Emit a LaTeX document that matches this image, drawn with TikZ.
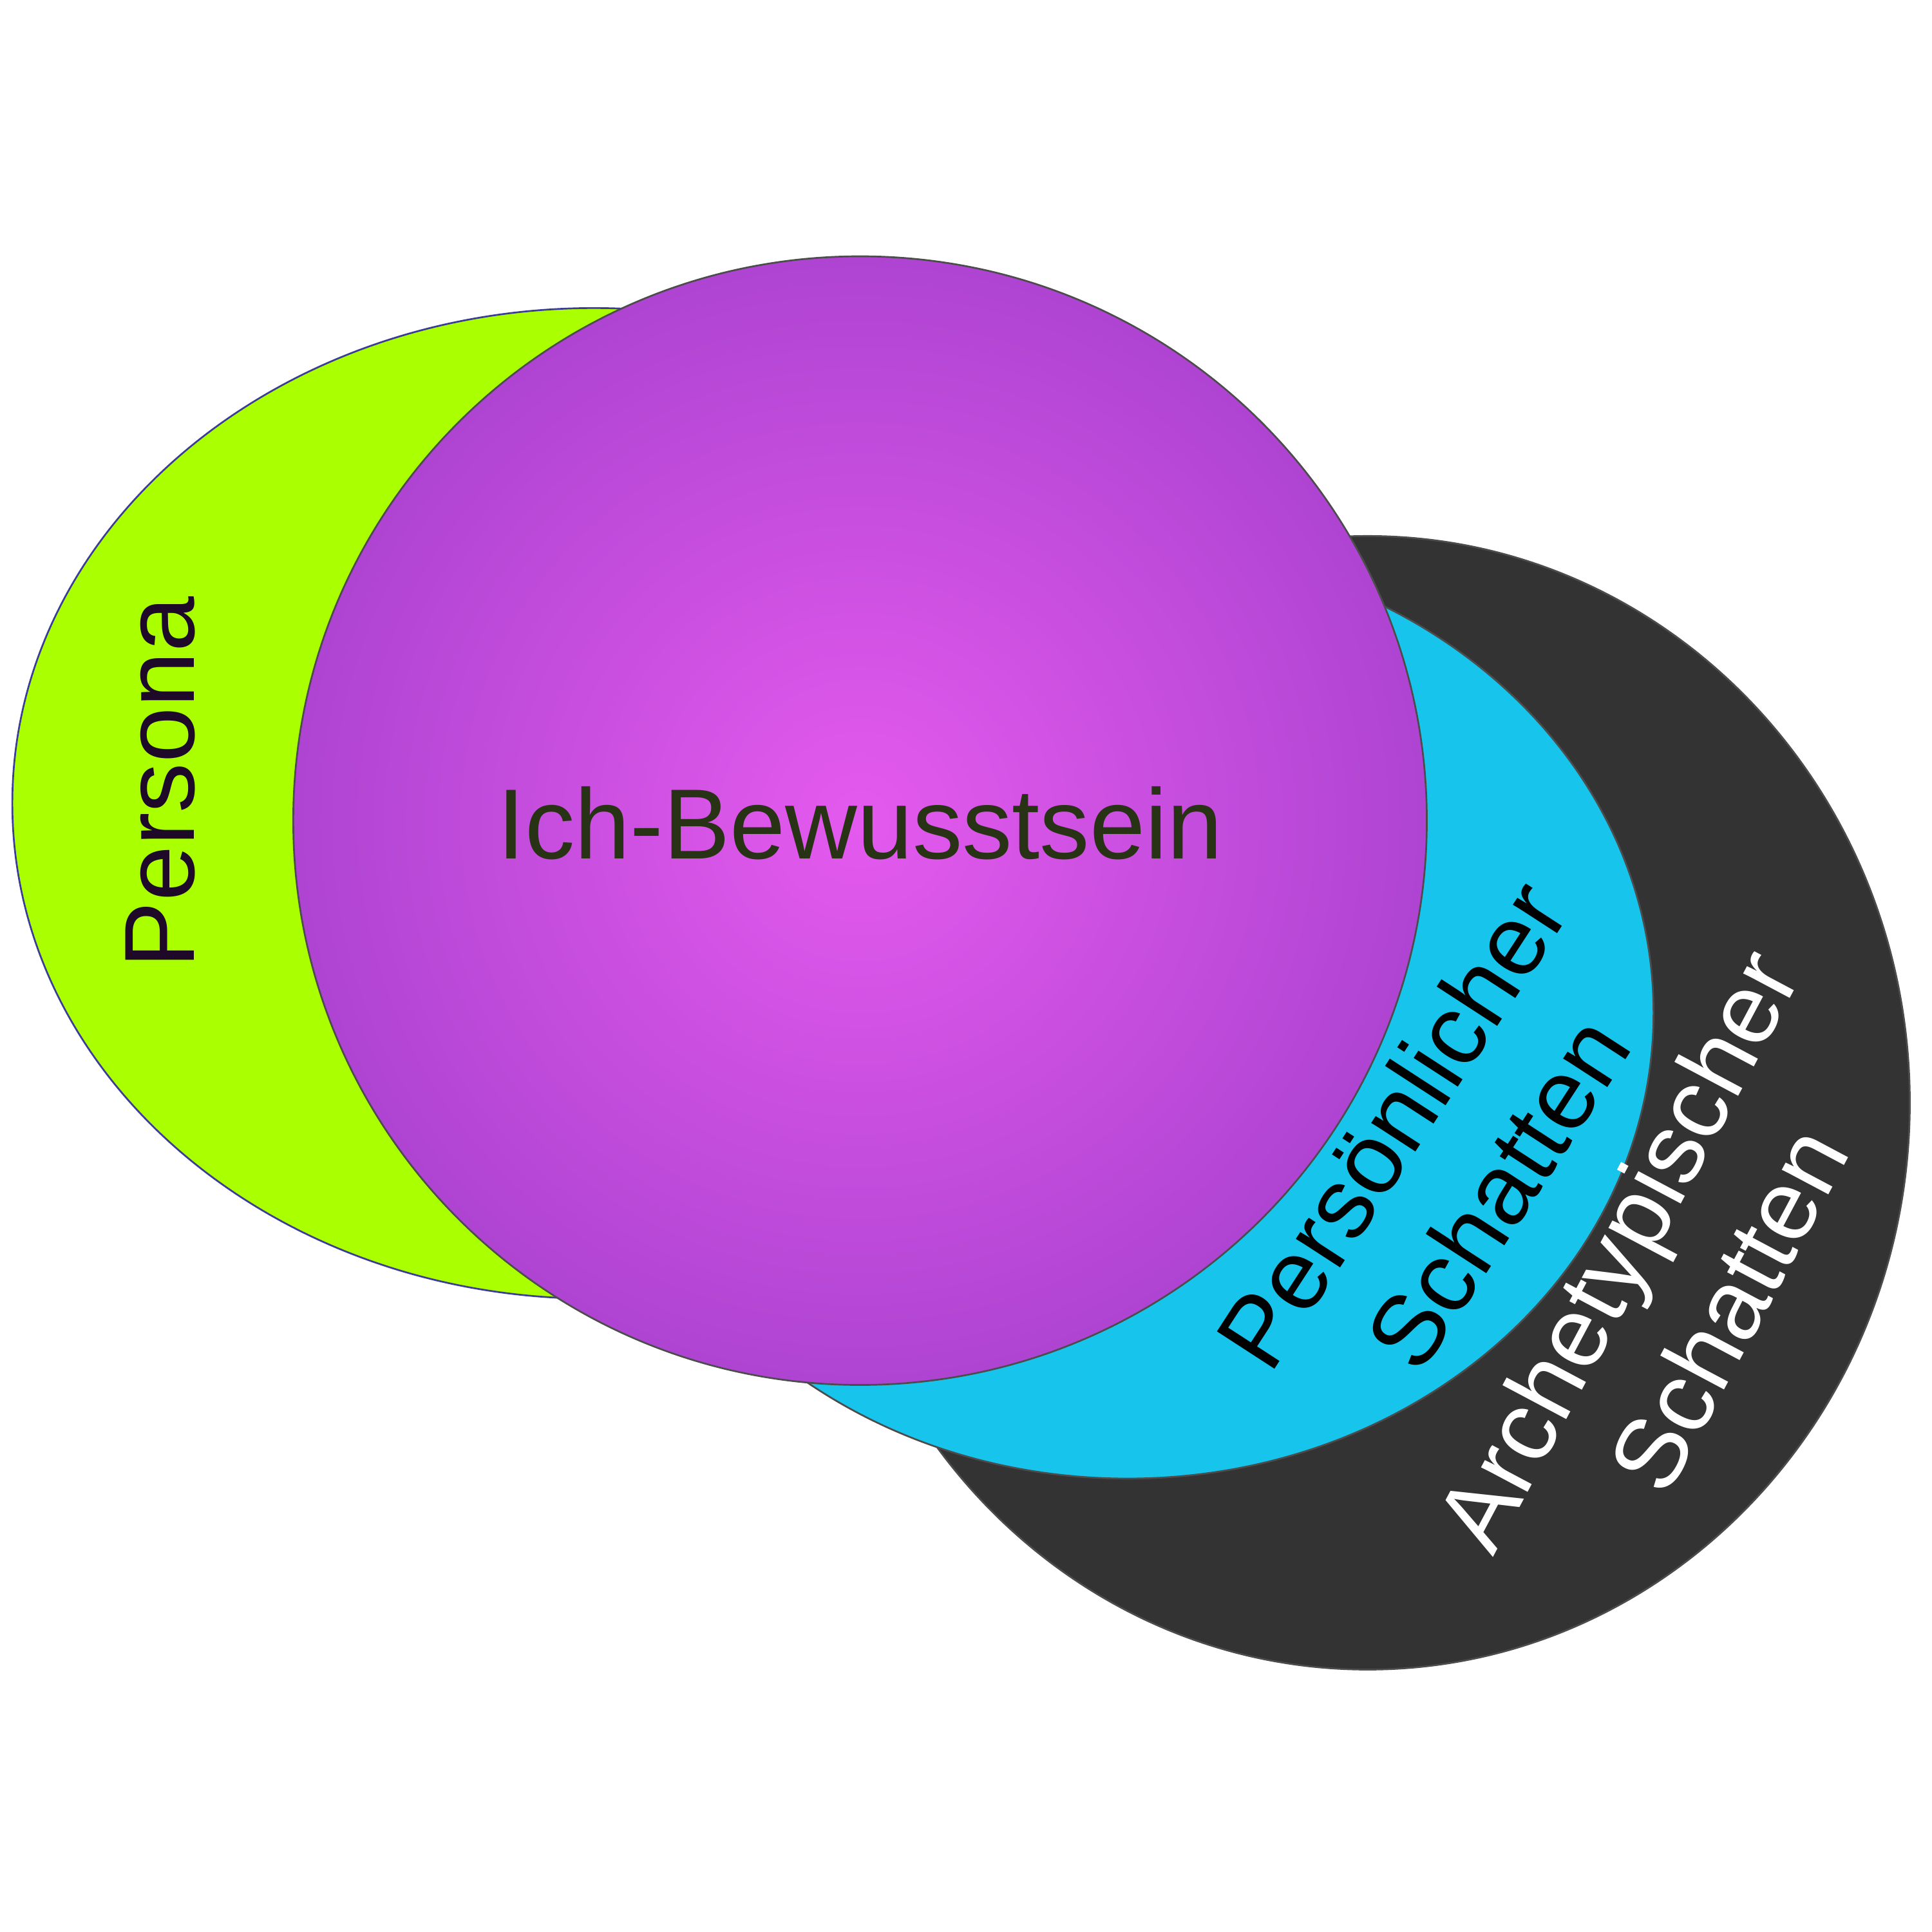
\documentclass[tikz,border=0pt]{standalone}
\usepackage{fontspec}
\setmainfont{Liberation Sans}
\begin{document}
\begin{tikzpicture}[x=0.01cm,y=0.01cm,
  lbl/.style={font=\fontsize{23}{29}\selectfont, align=center}]
\useasboundingbox (0,0) rectangle (1568,-1568);
\fill[white] (0,0) rectangle (1568,-1568);
\draw[fill={rgb,255:red,51;green,51;blue,51}, draw=black!70] (1110,-895) ellipse [x radius=440,y radius=460];
\draw[fill={rgb,255:red,22;green,196;blue,236}, draw=black!70] (915,-822) ellipse [x radius=427,y radius=378];
\draw[fill={rgb,255:red,170;green,255;blue,0}, draw={rgb,255:red,60;green,60;blue,150}] (482,-652) ellipse [x radius=472,y radius=402];
\shade[inner color={rgb,255:red,228;green,90;blue,238}, outer color={rgb,255:red,175;green,68;blue,210}] (698,-666) ellipse [x radius=460,y radius=458];
\draw[black!70] (698,-666) ellipse [x radius=460,y radius=458];
\node[lbl, rotate=90, text={rgb,255:red,30;green,10;blue,40}] (persona) at (130,-635) {Persona};
\node[lbl, text={rgb,255:red,40;green,50;blue,20}] (ich) at (698,-668) {Ich-Bewusstsein};
\node[lbl, rotate=57, text=black] (pers) at (1172,-940) {Persönlicher\\Schatten};
\node[lbl, rotate=62, text=white] (arch) at (1357,-1038) {Archetypischer\\Schatten};
\end{tikzpicture}
\end{document}
